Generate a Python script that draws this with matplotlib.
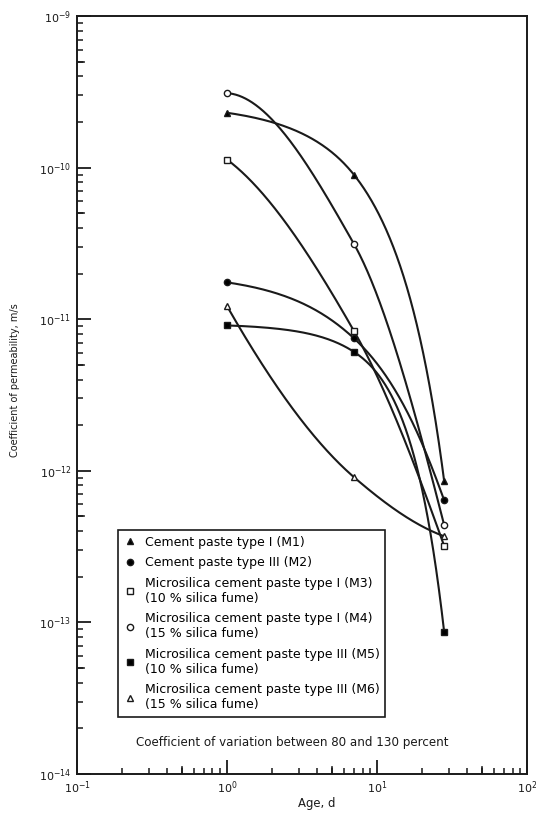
import numpy as np
import matplotlib
matplotlib.use("Agg")
import matplotlib.pyplot as plt
from matplotlib.ticker import LogLocator, FixedLocator, NullFormatter

# ---- data ----
days = [1, 7, 28]
m1 = [2.3e-10, 9.0e-11, 8.6e-13]   # Cement paste type I (M1)
m2 = [1.75e-11, 7.5e-12, 6.4e-13]  # Cement paste type III (M2)
m3 = [1.13e-10, 8.4e-12, 3.2e-13]  # Microsilica type I 10 % (M3)
m4 = [3.1e-10, 3.15e-11, 4.4e-13]  # Microsilica type I 15 % (M4)
m5 = [9.1e-12, 6.1e-12, 8.7e-14]   # Microsilica type III 10 % (M5)
m6 = [1.22e-11, 9.1e-13, 3.7e-13]  # Microsilica type III 15 % (M6)

labels = [
    "Cement paste type I (M1)",
    "Cement paste type III (M2)",
    "Microsilica cement paste type I (M3)\n(10 % silica fume)",
    "Microsilica cement paste type I (M4)\n(15 % silica fume)",
    "Microsilica cement paste type III (M5)\n(10 % silica fume)",
    "Microsilica cement paste type III (M6)\n(15 % silica fume)",
]
series = [m1, m2, m3, m4, m5, m6]
styles = [("^", "black"), ("o", "black"), ("s", "white"),
          ("o", "white"), ("s", "black"), ("^", "white")]
# space in which the hand-drawn smooth curve is traced
curve_space = ["lin", "lin", "log", "log", "lin", "log"]


def pchip(x, y, xs):
    """Monotone cubic Hermite curve (Fritsch-Carlson) for drawing the line."""
    x = np.asarray(x, float); y = np.asarray(y, float)
    h = np.diff(x); d = np.diff(y) / h
    n = len(x); m = np.zeros(n)
    for k in range(1, n - 1):
        if d[k - 1] * d[k] > 0:
            w1 = 2 * h[k] + h[k - 1]; w2 = h[k] + 2 * h[k - 1]
            m[k] = (w1 + w2) / (w1 / d[k - 1] + w2 / d[k])
    def endslope(h0, h1, d0, d1):
        s = ((2 * h0 + h1) * d0 - h0 * d1) / (h0 + h1)
        if np.sign(s) != np.sign(d0):
            s = 0.0
        elif np.sign(d0) != np.sign(d1) and abs(s) > abs(3 * d0):
            s = 3 * d0
        return s
    m[0] = endslope(h[0], h[1], d[0], d[1])
    m[-1] = endslope(h[-1], h[-2], d[-1], d[-2])
    out = np.empty_like(xs)
    for i, xv in enumerate(xs):
        k = min(max(np.searchsorted(x, xv) - 1, 0), n - 2)
        t = (xv - x[k]) / h[k]
        h00 = 2 * t**3 - 3 * t**2 + 1; h10 = t**3 - 2 * t**2 + t
        h01 = -2 * t**3 + 3 * t**2; h11 = t**3 - t**2
        out[i] = h00 * y[k] + h10 * h[k] * m[k] + h01 * y[k + 1] + h11 * h[k] * m[k + 1]
    return out


INK = "#1a1a1a"
fig = plt.figure(figsize=(5.36, 8.22), dpi=100)
ax = fig.add_axes([0.1437, 0.0584, 0.8396, 0.9221])

for vals, lab, (mk, fc), sp in zip(series, labels, styles, curve_space):
    if sp == "lin":
        xs = np.linspace(days[0], days[-1], 400)
        ys = pchip(np.asarray(days, float), np.log10(vals), xs)
        xp = xs
    else:
        lx = np.log10(days)
        xs = np.linspace(lx[0], lx[-1], 400)
        ys = pchip(lx, np.log10(vals), xs)
        xp = 10**xs
    ax.plot(xp, 10**ys, color=INK, lw=1.5, zorder=2)
    ax.plot(days, vals, linestyle="none", marker=mk, ms=4.5,
            markerfacecolor=fc, markeredgecolor=INK, mew=1.0,
            label=lab, zorder=3)

ax.set_xscale("log")
ax.set_yscale("log")
ax.set_xlim(0.1, 100)
ax.set_ylim(1e-14, 1e-9)

ax.xaxis.set_major_locator(FixedLocator([0.1, 1, 10, 100]))
ax.set_xticklabels([r"$10^{-1}$", r"$10^{0}$", r"$10^{1}$", r"$10^{2}$"])
ax.yaxis.set_major_locator(FixedLocator([1e-14, 1e-13, 1e-12, 1e-11, 1e-10, 1e-9]))
ax.set_yticklabels([r"$10^{-14}$", r"$10^{-13}$", r"$10^{-12}$",
                    r"$10^{-11}$", r"$10^{-10}$", r"$10^{-9}$"])
ax.xaxis.set_minor_locator(LogLocator(base=10, subs=np.arange(2, 10)))
ax.yaxis.set_minor_locator(LogLocator(base=10, subs=np.arange(2, 10)))
ax.xaxis.set_minor_formatter(NullFormatter())
ax.yaxis.set_minor_formatter(NullFormatter())
ax.tick_params(which="major", direction="in", length=10, width=1.3,
               labelsize=8, colors=INK, pad=4)
ax.tick_params(which="minor", direction="in", length=4, width=1.1,
               colors=INK)
# medium ticks at the 5s, as in the printed figure
for k in range(-1, 2):
    ax.axvline(5 * 10.0**k, ymin=0, ymax=7 / 758, color=INK, lw=1.2)
for k in range(-14, -9):
    ax.axhline(5 * 10.0**k, xmin=0, xmax=7 / 450, color=INK, lw=1.2)
for s in ax.spines.values():
    s.set_linewidth(1.4)
    s.set_color(INK)

fig.text(15 / 536, 1 - 380 / 822, "Coefficient of permeability, m/s",
         rotation=90, ha="center", va="center", fontsize=7, color=INK)
fig.text(317 / 536, 1 - 803 / 822, "Age, d", ha="center", va="center",
         fontsize=8.4, color=INK)
ax.text(0.478, 0.041, "Coefficient of variation between 80 and 130 percent",
        transform=ax.transAxes, ha="center", va="center", fontsize=8.6,
        color=INK)

leg = ax.legend(loc="upper left", bbox_to_anchor=(0.091, 0.322),
                fontsize=9, frameon=True, fancybox=False,
                edgecolor=INK, framealpha=1, handlelength=1.0,
                handletextpad=0.7, labelspacing=0.6, borderpad=0.45,
                borderaxespad=0)
leg.get_frame().set_linewidth(1.2)

fig.savefig("out.png", dpi=100)
